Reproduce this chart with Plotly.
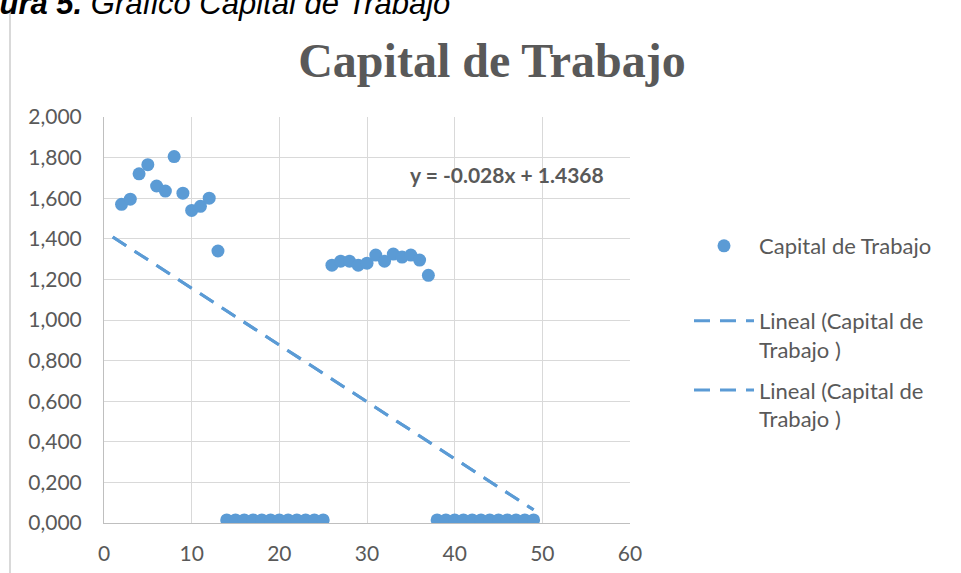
import numpy as np
import plotly.graph_objects as go

# ---------------- data ----------------
periods = list(range(2, 50))
capital = [1.57, 1.595, 1.72, 1.765, 1.66, 1.635, 1.805, 1.625, 1.54, 1.56, 1.60, 1.34,
           0.015, 0.015, 0.015, 0.015, 0.015, 0.015, 0.015, 0.015, 0.015, 0.015, 0.015, 0.015,
           1.27, 1.29, 1.29, 1.27, 1.28, 1.32, 1.29, 1.325, 1.31, 1.32, 1.295, 1.22,
           0.015, 0.015, 0.015, 0.015, 0.015, 0.015, 0.015, 0.015, 0.015, 0.015, 0.015, 0.015]
trend_slope = -0.028
trend_intercept = 1.4368
trend_x = [1, 49]
x_ticks = [0, 10, 20, 30, 40, 50, 60]
y_ticks = [0, 0.2, 0.4, 0.6, 0.8, 1.0, 1.2, 1.4, 1.6, 1.8, 2.0]

title_text = "Capital de Trabajo"
caption_text = "<b><i>Figura 5.</i></b><i> Gráfico Capital de Trabajo</i>"
equation_text = "<b>y = -0.028x + 1.4368</b>"
series_name = "Capital de Trabajo"
trend_name = "Lineal (Capital de<br>Trabajo )"

# ---------------- layout helpers ----------------
W, H = 961, 573
L, R, T, B = 104, 630, 117, 523
BLUE = "#5b9bd5"
GREY = "#595959"
FONT = "Lato"

def px(xp):
    return (xp - L) / (R - L)

def py(yp):
    return (B - yp) / (B - T)

trend_y = [trend_slope * v + trend_intercept for v in trend_x]

fig = go.Figure()
fig.add_trace(go.Scatter(
    x=periods, y=capital, mode="markers", name=series_name,
    marker=dict(color=BLUE, size=13), legend="legend"))
for i in range(2):
    fig.add_trace(go.Scatter(
        x=trend_x, y=trend_y, mode="lines", name=trend_name,
        line=dict(color=BLUE, width=3, dash="16px,10px"), legend="legend2",
        legendgroup=f"g{i}"))

fig.update_layout(
    width=W, height=H,
    margin=dict(l=L, r=W - R, t=T, b=H - B, pad=0, autoexpand=False),
    paper_bgcolor="white", plot_bgcolor="white",
    separators=",.",
    font=dict(family=FONT, color=GREY, size=21),
    title=dict(text=f"<b>{title_text}</b>", x=492 / W, xanchor="center",
               y=1 - 60 / H, yanchor="middle",
               font=dict(family="Liberation Serif", size=48, color=GREY)),
    xaxis=dict(range=[0, 60], tickvals=x_ticks, showgrid=True, gridcolor="#d9d9d9",
               gridwidth=1, showline=True, linecolor="#bfbfbf", linewidth=1,
               zeroline=False, ticks="", ticklabelstandoff=12, automargin=False,
               tickfont=dict(family=FONT, size=21, color=GREY)),
    yaxis=dict(range=[0, 2], tickvals=y_ticks, tickformat=".3f", showgrid=True,
               gridcolor="#d9d9d9", gridwidth=1, showline=True, linecolor="#bfbfbf",
               linewidth=1, zeroline=False, ticks="", ticklabelstandoff=17, automargin=False,
               tickfont=dict(family=FONT, size=21, color=GREY)),
    legend=dict(x=px(689), y=py(246), xanchor="left", yanchor="middle", itemwidth=60,
                font=dict(family=FONT, size=22, color=GREY), bgcolor="rgba(0,0,0,0)"),
    legend2=dict(x=px(689), y=py(300), xanchor="left", yanchor="top", itemwidth=60,
                 valign="top", traceorder="grouped", tracegroupgap=9,
                 font=dict(family=FONT, size=22, color=GREY), bgcolor="rgba(0,0,0,0)"),
    showlegend=True,
)

fig.add_annotation(text=equation_text, xref="paper", yref="paper",
                   x=px(507), y=py(174), xanchor="center", yanchor="middle",
                   showarrow=False, font=dict(family=FONT, size=21, color=GREY))
fig.add_annotation(text=caption_text, xref="paper", yref="paper",
                   x=px(452), y=py(3), xanchor="right", yanchor="middle",
                   showarrow=False, font=dict(family="Liberation Sans", size=31, color="black"))
fig.add_shape(type="line", xref="paper", yref="paper",
              x0=px(10), x1=px(10), y0=py(8), y1=py(H + 5),
              line=dict(color="#d9d9d9", width=2))

fig.write_html("out.html", config={"displayModeBar": False},
               post_script="document.body.style.margin='0';")
